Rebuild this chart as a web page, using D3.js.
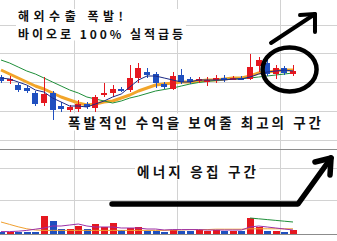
<!DOCTYPE html>
<html>
<head>
<meta charset="utf-8">
<script src="https://cdn.jsdelivr.net/npm/d3@7"></script>
<style>
  body { margin: 0; background: #fff; }
  svg { display: block; }
</style>
</head>
<body>
<svg id="chart" width="337" height="241"></svg>
<script>
// daily candles
const opens  = [2230,2190,2150,2120,2070,1970,2070,1940,1900,1910,1960,1920,2050,2070,2110,2100,2220,2280,2260,2160,2110,2250,2210,2190,2180,2200,2220,2210,2220,2210,2340,2370,2260,2320,2260];
const closes = [2190,2210,2100,2090,1960,2060,1900,1910,1930,1960,1930,2030,2070,2110,2090,2220,2320,2250,2170,2130,2240,2180,2180,2210,2200,2220,2210,2220,2210,2330,2400,2260,2320,2270,2290];
const highs  = [2250,2240,2170,2140,2090,2230,2090,1980,1950,2000,1980,2050,2170,2150,2130,2350,2370,2320,2280,2180,2280,2310,2230,2230,2230,2250,2250,2240,2240,2460,2430,2400,2350,2340,2350];
const lows   = [2170,2160,2080,2070,1940,1940,1800,1880,1880,1880,1910,1880,2030,2030,2080,2080,2170,2220,2120,2110,2100,2160,2160,2170,2140,2170,2180,2200,2200,2200,2280,2240,2210,2250,2240];

// moving averages on price
const ma5  = [2220,2210,2180,2150,2100,2080,2020,1980,1940,1940,1930,1960,1990,2030,2060,2130,2200,2240,2240,2220,2200,2180,2180,2200,2200,2200,2200,2210,2210,2230,2260,2280,2290,2300,2290];
const ma20 = [2300,2260,2220,2180,2140,2110,2070,2030,2000,1970,1950,1960,1980,1990,2020,2050,2090,2120,2150,2160,2170,2180,2180,2190,2200,2200,2210,2220,2220,2240,2270,2280,2290,2300,2300];
const ma60 = [2400,2370,2330,2290,2260,2220,2180,2140,2100,2070,2030,2010,1990,1970,1990,2020,2040,2065,2090,2105,2120,2140,2160,2175,2185,2195,2205,2210,2215,2220,2230,2240,2250,2260,2270];

// volume and its averages
const volumes = [10,10,10,10,10,90,65,25,25,40,25,50,35,55,20,30,35,15,15,10,20,15,15,20,15,20,15,15,15,80,35,15,15,10,20];
const volMa20 = [60,48,36,26,20,18,18,18,18,18,18,18,18,18,18,18,18,18,18,18,20,20,22,22,22,24,24,24,24,26,26,26,26,26,26];
const volMa10 = [12,12,14,18,24,30,40,40,45,50,40,35,35,35,30,30,30,25,25,20,22,22,22,22,20,20,20,20,20,35,40,35,30,25,20];
const volMa5  = [null,null,null,null,null,null,null,null,null,null,null,null,null,null,null,null,null,null,null,null,null,null,null,null,null,null,null,null,null,80,76,72,68,64,60];

const priceGrid = [1600,1890,2180,2470,2750];
const volGrid = [170,330];
const monthBreaks = [8.5,20.5,32.5];

const W = 337, H = 241;
const svg = d3.select("#chart");

const x  = d3.scaleLinear().domain([0, 34]).range([1, 293]);
const y  = d3.scaleLinear().domain([1600, 2750]).range([140, 25]);
const yv = d3.scaleLinear().domain([0, 425]).range([234, 149]);
const bodyW = 6;
const UP = "#e5171f", DOWN = "#1f4fbf";

// grid
const grid = svg.append("g").attr("shape-rendering", "crispEdges").attr("stroke", "#d2d2d2");
grid.selectAll("line.py").data(priceGrid).join("line")
  .attr("x1", 0).attr("x2", W).attr("y1", d => Math.round(y(d))).attr("y2", d => Math.round(y(d)));
grid.selectAll("line.vy").data(volGrid).join("line")
  .attr("x1", 0).attr("x2", W).attr("y1", d => Math.round(yv(d))).attr("y2", d => Math.round(yv(d)));
grid.selectAll("line.mx").data(monthBreaks).join("line")
  .attr("x1", d => Math.round(x(d))).attr("x2", d => Math.round(x(d)))
  .attr("y1", 0).attr("y2", yv(0));

svg.append("g").attr("shape-rendering", "crispEdges").attr("stroke", "#8c8c8c")
  .selectAll("line").data([425, 0]).join("line")
  .attr("x1", 0).attr("x2", W).attr("y1", d => Math.round(yv(d))).attr("y2", d => Math.round(yv(d)));

const line = (sy) => d3.line().defined(d => d != null).x((d, i) => x(i)).y(d => sy(d));

// thick 20 day average under the candles
svg.append("path").datum(ma20).attr("d", line(y))
  .attr("fill", "none").attr("stroke", "#f2a52a").attr("stroke-width", 3).attr("stroke-linejoin", "round");
svg.append("path").datum(ma60).attr("d", line(y))
  .attr("fill", "none").attr("stroke", "#1f8f3a").attr("stroke-width", 1);

const days = d3.range(opens.length);
const candles = svg.append("g").attr("shape-rendering", "crispEdges");
candles.selectAll("line").data(days).join("line")
  .attr("x1", i => Math.round(x(i))).attr("x2", i => Math.round(x(i)))
  .attr("y1", i => y(highs[i])).attr("y2", i => y(lows[i]))
  .attr("stroke", i => closes[i] >= opens[i] ? UP : DOWN);
candles.selectAll("rect").data(days).join("rect")
  .attr("x", i => Math.round(x(i)) - bodyW / 2)
  .attr("width", bodyW)
  .attr("y", i => y(Math.max(opens[i], closes[i])))
  .attr("height", i => Math.max(1.5, Math.abs(y(opens[i]) - y(closes[i]))))
  .attr("fill", i => closes[i] >= opens[i] ? UP : DOWN);

svg.append("path").datum(ma5).attr("d", line(y))
  .attr("fill", "none").attr("stroke", "#1c2a86").attr("stroke-width", 1);

// volume
svg.append("g").attr("shape-rendering", "crispEdges")
  .selectAll("rect").data(days).join("rect")
  .attr("x", i => Math.round(x(i)) - bodyW / 2 - 0.5)
  .attr("width", bodyW + 1)
  .attr("y", i => yv(volumes[i]))
  .attr("height", i => yv(0) - yv(volumes[i]))
  .attr("fill", i => closes[i] >= opens[i] ? UP : DOWN);

[[volMa20, "#f0a030"], [volMa10, "#9b2fa8"], [volMa5, "#1f8f3a"]].forEach(([s, c]) => {
  svg.append("path").datum(s).attr("d", line(yv))
    .attr("fill", "none").attr("stroke", c).attr("stroke-width", 1);
});

// captions, each block on a white patch; the headline is one text with two lines
const notes = [
  [{ text: "해외수출 폭발!", x: 18, y: 21, w: 105, size: 12 },
   { text: "바이오로 100% 실적급등", x: 18, y: 38.5, w: 165, size: 12 }],
  [{ text: "폭발적인 수익을 보여줄 최고의 구간", x: 68, y: 127.5, w: 253, size: 13.5 }],
  [{ text: "에너지 응집 구간", x: 137, y: 176.5, w: 119, size: 13.5 }]
];
const cap = svg.append("g");
notes.forEach(block => {
  const bg = cap.append("rect").attr("fill", "#fff");
  const t = cap.append("text")
    .attr("font-family", "'Noto Sans CJK KR', sans-serif")
    .attr("font-weight", 700)
    .attr("fill", "#111");
  block.forEach(n => {
    const s = t.append("tspan").attr("x", n.x).attr("y", n.y)
      .attr("font-size", n.size).text(n.text);
    const natural = s.node().getComputedTextLength();
    s.attr("letter-spacing", (n.w - natural) / (n.text.length - 1));
  });
  const b = t.node().getBBox();
  bg.attr("x", b.x - 2).attr("y", b.y + 2).attr("width", b.width + 2).attr("height", b.height - 3);
});

// hand drawn marks, placed in chart coordinates
const ink = svg.append("g").attr("fill", "none").attr("stroke", "#000")
  .attr("stroke-linecap", "round").attr("stroke-linejoin", "round");

ink.append("ellipse")
  .attr("cx", x(33.6)).attr("cy", y(2305)).attr("rx", 27).attr("ry", 22)
  .attr("stroke-width", 4.5);

const upArrow = [[31.44, 2570], [36.56, 2860]];
const upHead = [[34.82, 2850], [36.56, 2860], [36.56, 2680]];
const pl = d3.line().x(d => x(d[0])).y(d => y(d[1]));
ink.append("path").attr("d", pl(upArrow)).attr("stroke-width", 4);
ink.append("path").attr("d", pl(upHead)).attr("stroke-width", 4);

const vl = d3.line().x(d => x(d[0])).y(d => yv(d[1]));
const lowArrow = [[12.93, 150], [34.58, 150], [38.43, 380]];
const lowHead = [[36.56, 360], [38.43, 380], [38.31, 295]];
ink.append("path").attr("d", vl(lowArrow)).attr("stroke-width", 5.5);
ink.append("path").attr("d", vl(lowHead)).attr("stroke-width", 5.5);
</script>
</body>
</html>
